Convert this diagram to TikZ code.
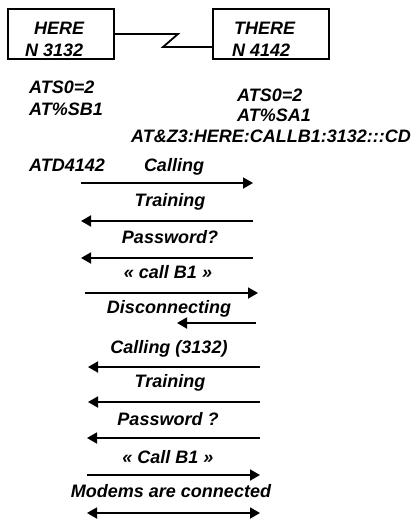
\documentclass[tikz,border=0pt]{standalone}
\usepackage{fontspec}
\setmainfont{Liberation Sans}
\usetikzlibrary{arrows.meta,calc}

\begin{document}
\begin{tikzpicture}[x=1pt, y=-1pt,
  font=\fontsize{18}{21}\selectfont\bfseries\itshape,
  site/.style={draw, line width=1.8pt, minimum width=106pt, minimum height=50pt, inner sep=0pt},
  txt/.style={inner sep=0pt, anchor=base west},
  msg/.style={inner sep=0pt, anchor=base},
  wire/.style={line width=1.8pt},
  arr/.style={-{Triangle[length=10pt,width=11pt]}, line width=1.8pt},
  both/.style={{Triangle[length=10pt,width=11pt]}-{Triangle[length=10pt,width=11pt]}, line width=1.8pt}]
\useasboundingbox (0,0) rectangle (418,521);
% the two modems and the line between them
\node[site] (here) at (61,34) {};
\node[site, minimum width=116pt] (there) at (271,34) {};
\node[txt] (hereName) at (34,35) {HERE};
\node[txt] (hereNum) at (25,57) {N 3132};
\node[txt] (thereName) at (234,35) {THERE};
\node[txt] (thereNum) at (232,57) {N 4142};
\coordinate (kneeA) at (178,34);
\coordinate (kneeB) at (163,47);
\draw[wire] (here.east) -- (kneeA) -- (kneeB) -- (kneeB -| there.west);
% set-up commands
\node[txt] (hereS0) at (29,94) {ATS0=2};
\node[txt] (hereSB) at (29,116) {AT\%SB1};
\node[txt] (thereS0) at (237,102) {ATS0=2};
\node[txt] (thereSA) at (237,122) {AT\%SA1};
\node[txt] (thereZ3) at (131,143) {AT\&Z3:HERE:CALLB1:3132:::CD};
\node[txt] (dial) at (29,172) {ATD4142};
% message labels
\node[msg] (m1) at (174,172) {Calling};
\node[msg] (m2) at (170,207) {Training};
\node[msg] (m3) at (170,243) {Password?};
\node[msg] (m4) at (168,278) {\guillemotleft{} call B1 \guillemotright};
\node[msg] (m5) at (169,313) {Disconnecting};
\node[msg] (m6) at (169,353) {Calling (3132)};
\node[msg] (m7) at (170,387) {Training};
\node[msg] (m8) at (168,425) {Password ?};
\node[msg] (m9) at (168,463) {\guillemotleft{} Call B1 \guillemotright};
\node[msg] (m10) at (171,497) {Modems are connected};
% message arrows
\coordinate (a1l) at (81,183);  \coordinate (a1r) at (253,183);
\coordinate (a2l) at (81,221);  \coordinate (a2r) at (253,221);
\coordinate (a3l) at (81,258);  \coordinate (a3r) at (253,258);
\coordinate (a4l) at (85,293);  \coordinate (a4r) at (258,293);
\coordinate (a5l) at (177,323); \coordinate (a5r) at (256,323);
\coordinate (a6l) at (88,367);  \coordinate (a6r) at (260,367);
\coordinate (a7l) at (88,402);  \coordinate (a7r) at (260,402);
\coordinate (a8l) at (87,438);  \coordinate (a8r) at (260,438);
\coordinate (a9l) at (87,475);  \coordinate (a9r) at (260,475);
\coordinate (a10l) at (87,513); \coordinate (a10r) at (260,513);
\draw[arr] (a1l) -- (a1r);
\draw[arr] (a2r) -- (a2l);
\draw[arr] (a3r) -- (a3l);
\draw[arr] (a4l) -- (a4r);
\draw[arr] (a5r) -- (a5l);
\draw[arr] (a6r) -- (a6l);
\draw[arr] (a7r) -- (a7l);
\draw[arr] (a8r) -- (a8l);
\draw[arr] (a9l) -- (a9r);
\draw[both] (a10l) -- (a10r);
\end{tikzpicture}
\end{document}
